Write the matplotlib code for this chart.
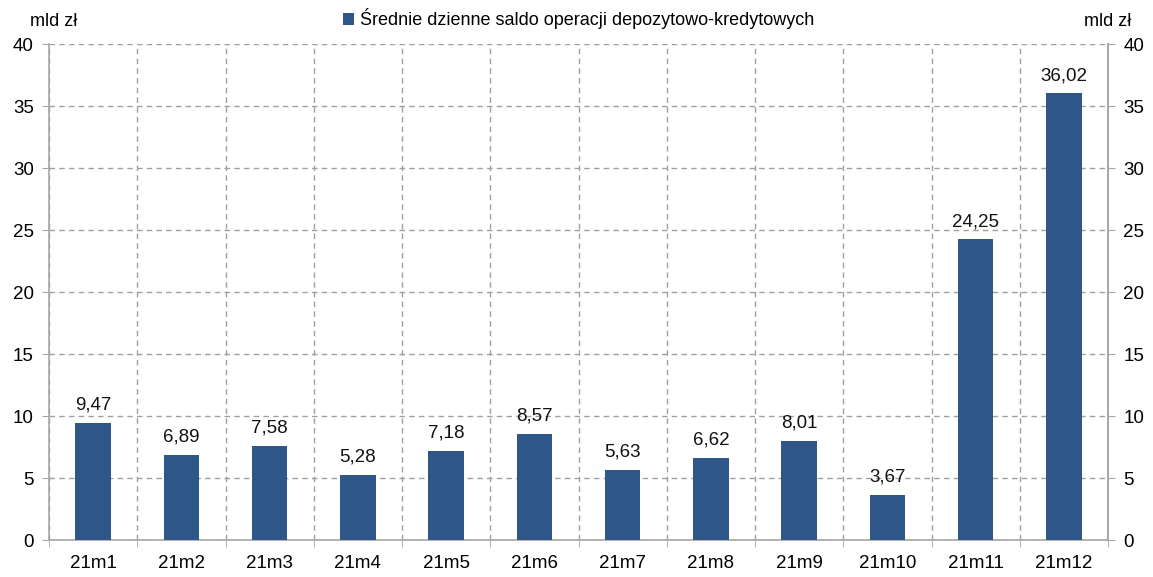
import matplotlib.pyplot as plt
import numpy as np

plt.rcParams["font.family"] = ["Liberation Sans", "DejaVu Sans"]

months = ["21m1", "21m2", "21m3", "21m4", "21m5", "21m6",
          "21m7", "21m8", "21m9", "21m10", "21m11", "21m12"]
saldo = [9.47, 6.89, 7.58, 5.28, 7.18, 8.57, 5.63, 6.62, 8.01, 3.67, 24.25, 36.02]
yticks = [0, 5, 10, 15, 20, 25, 30, 35, 40]

bar_color = "#2E5689"
grid_color = "#A0A0A0"
spine_color = "#A6A6A6"
fs = 13.5

fig = plt.figure(figsize=(11.53, 5.77), dpi=100)
ax = fig.add_axes([0.0425, 0.0641, 0.9185, 0.8596])

x = np.arange(len(months))
ax.bar(x, saldo, width=0.4, color=bar_color,
       label="Średnie dzienne saldo operacji depozytowo-kredytowych", zorder=3)
for xi, v in zip(x, saldo):
    ax.text(xi, v + 0.75, f"{v:.2f}".replace(".", ","), ha="center", va="bottom",
            fontsize=fs, color="#111111", zorder=4)

ax.set_xlim(-0.5, len(months) - 0.5)
ax.set_ylim(0, 40)
ax.set_yticks(yticks)
ax.set_xticks(x)
ax.set_xticklabels(months, fontsize=fs)
ax.set_xticks(np.arange(len(months) + 1) - 0.5, minor=True)
ax.tick_params(axis="x", which="major", length=0, pad=11)
ax.tick_params(axis="x", which="minor", length=5, color=spine_color)
ax.tick_params(axis="y", length=5, color=spine_color, labelsize=fs, pad=6)

ax.grid(axis="y", color=grid_color, linestyle=(0, (4, 3)), linewidth=1, zorder=0)
ax.grid(axis="x", which="minor", color=grid_color, linestyle=(0, (4, 3)), linewidth=1, zorder=0)

ax.spines["top"].set_visible(False)
for s in ["left", "right", "bottom"]:
    ax.spines[s].set_color(spine_color)
    ax.spines[s].set_linewidth(1.2)

ax2 = ax.twinx()
ax2.set_ylim(0, 40)
ax2.set_yticks(yticks)
ax2.tick_params(axis="y", length=5, color=spine_color, labelsize=fs, pad=6)
for s in ["top", "left", "bottom"]:
    ax2.spines[s].set_visible(False)
ax2.spines["right"].set_color(spine_color)
ax2.spines["right"].set_linewidth(1.2)

fig.text(0.026, 0.963, "mld zł", fontsize=13, ha="left", va="center")
fig.text(0.981, 0.963, "mld zł", fontsize=13, ha="right", va="center")

ax.legend(loc="upper center", bbox_to_anchor=(0.5, 1.105), frameon=False,
          fontsize=13, handlelength=0.6, handleheight=0.6, handletextpad=0.3)

fig.savefig("out.png", dpi=100)
